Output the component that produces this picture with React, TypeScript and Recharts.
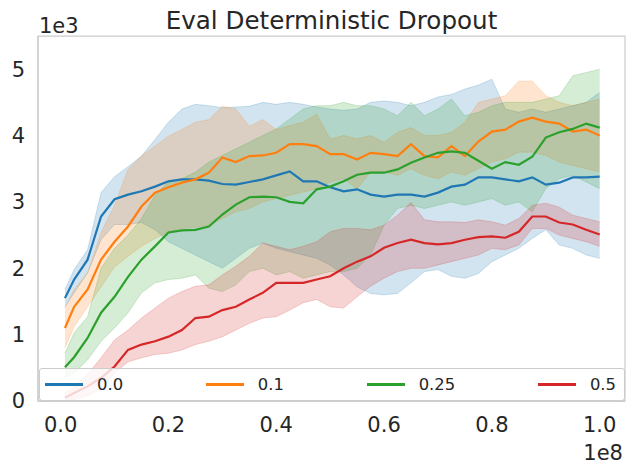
import { ComposedChart, Area, Line, XAxis, YAxis, ReferenceArea } from 'recharts'

// x: environment steps (1e8), y: eval return (1e3)
const steps = [
  0.008, 0.025, 0.05, 0.075, 0.1, 0.125, 0.15, 0.175, 0.2, 0.225,
  0.25, 0.275, 0.3, 0.325, 0.35, 0.375, 0.4, 0.425, 0.45, 0.475,
  0.5, 0.525, 0.55, 0.575, 0.6, 0.625, 0.65, 0.675, 0.7, 0.725,
  0.75, 0.775, 0.8, 0.825, 0.85, 0.875, 0.9, 0.925, 0.95, 0.975, 1.0,
]

// dropout 0.0
const mean00 = [
  1.55, 1.83, 2.13, 2.78, 3.04, 3.11, 3.16, 3.23, 3.31, 3.34,
  3.34, 3.32, 3.27, 3.26, 3.3, 3.34, 3.4, 3.46, 3.31, 3.31,
  3.22, 3.16, 3.19, 3.11, 3.08, 3.11, 3.11, 3.08, 3.14, 3.23,
  3.26, 3.37, 3.37, 3.34, 3.31, 3.37, 3.26, 3.29, 3.37, 3.37, 3.38,
]
const high00 = [
  1.68, 1.98, 2.28, 3.14, 3.38, 3.53, 3.69, 3.94, 4.2, 4.4,
  4.47, 4.45, 4.42, 4.43, 4.44, 4.5, 4.47, 4.5, 4.47, 4.43,
  4.4, 4.38, 4.4, 4.5, 4.52, 4.5, 4.45, 4.5, 4.58, 4.62,
  4.7, 4.76, 4.85, 4.4, 4.35, 4.4, 4.35, 4.4, 4.45, 4.5, 4.65,
]
const low00 = [
  1.42, 1.63, 1.93, 2.43, 2.66, 2.66, 2.69, 2.58, 2.4, 2.3,
  2.2, 2.1, 2.0, 2.15, 2.3, 2.38, 2.3, 2.25, 2.2, 2.15,
  2.05, 1.9, 1.72, 1.62, 1.6, 1.62, 1.78, 1.95, 1.98, 1.88,
  1.85, 1.92, 2.1, 2.2, 2.3, 2.45, 2.58, 2.35, 2.3, 2.2, 2.15,
]

// dropout 0.1
const mean01 = [
  1.1, 1.42, 1.68, 2.13, 2.4, 2.63, 2.93, 3.14, 3.22, 3.29,
  3.34, 3.44, 3.67, 3.6, 3.69, 3.7, 3.74, 3.87, 3.87, 3.84,
  3.72, 3.72, 3.64, 3.74, 3.72, 3.69, 3.87, 3.69, 3.67, 3.84,
  3.69, 3.91, 4.06, 4.09, 4.21, 4.27, 4.21, 4.18, 4.06, 4.09, 4.0,
]
const high01 = [
  1.4, 1.68, 1.93, 2.54, 2.95, 3.49, 3.69, 3.84, 3.99, 4.09,
  4.2, 4.24, 4.44, 4.4, 4.14, 4.24, 4.09, 4.15, 4.2, 4.32,
  3.95, 4.0, 3.95, 4.0, 3.9, 4.05, 4.12, 4.0, 4.0, 4.05,
  4.2, 4.5, 4.55, 4.6, 4.82, 4.82, 4.6, 4.5, 4.45, 4.5, 4.55,
]
const low01 = [
  0.8, 1.12, 1.42, 1.72, 2.02, 2.18, 2.33, 2.45, 2.55, 2.6,
  2.62, 2.65, 2.75, 2.85, 2.9, 3.0, 3.05, 3.1, 3.15, 3.2,
  3.3, 3.35, 3.2, 3.45, 3.45, 3.4, 3.5, 3.4, 3.35, 3.45,
  3.4, 3.5, 3.6, 3.65, 3.75, 3.75, 3.7, 3.6, 3.55, 3.5, 3.45,
]

// dropout 0.25
const mean025 = [
  0.51, 0.66, 0.95, 1.33, 1.57, 1.87, 2.13, 2.33, 2.54, 2.57,
  2.58, 2.63, 2.81, 2.96, 3.07, 3.08, 3.07, 3.0, 2.98, 3.19,
  3.23, 3.31, 3.41, 3.44, 3.44, 3.49, 3.59, 3.67, 3.74, 3.76,
  3.74, 3.62, 3.5, 3.6, 3.56, 3.68, 3.97, 4.05, 4.1, 4.18, 4.12,
]
const high025 = [
  0.72, 1.03, 1.27, 2.0, 2.3, 2.5, 2.75, 3.1, 3.3, 3.35,
  3.45, 3.6, 3.7, 3.8, 3.9, 4.0, 4.1, 4.25, 4.4, 4.45,
  4.45, 4.5, 4.45, 4.45, 4.4, 4.3, 4.5, 4.3, 4.4, 4.55,
  4.3, 4.35, 4.45, 4.5, 4.5, 4.5, 4.55, 4.6, 4.9, 4.95, 5.0,
]
const low025 = [
  0.35, 0.42, 0.62, 0.9, 1.1, 1.33, 1.63, 1.78, 1.83, 1.85,
  1.9, 1.7, 1.65, 1.75, 1.95, 2.0, 1.9, 1.95, 1.85, 1.9,
  1.95, 1.95, 2.0, 2.2, 2.65, 2.9, 2.95, 2.9, 2.95, 3.0,
  2.95, 3.0, 3.05, 2.95, 3.0, 2.85, 3.2, 3.35, 3.4, 3.3, 3.2,
]

// dropout 0.5
const mean05 = [
  0.05, 0.12, 0.22, 0.35, 0.52, 0.77, 0.85, 0.9, 0.97, 1.07,
  1.25, 1.27, 1.37, 1.42, 1.53, 1.63, 1.78, 1.78, 1.78, 1.83,
  1.88, 2.0, 2.1, 2.18, 2.31, 2.38, 2.43, 2.38, 2.36, 2.38,
  2.43, 2.47, 2.48, 2.46, 2.55, 2.78, 2.78, 2.69, 2.66, 2.58, 2.51,
]
const high05 = [
  0.12, 0.22, 0.4, 0.65, 0.92, 1.07, 1.25, 1.4, 1.55, 1.65,
  1.73, 1.75, 1.9, 2.03, 2.18, 2.38, 2.33, 2.28, 2.33, 2.4,
  2.55, 2.6, 2.6, 2.58, 2.65, 2.8, 2.99, 2.73, 2.7, 2.7,
  2.69, 2.73, 2.7, 2.65, 2.75, 2.95, 2.98, 2.92, 2.8, 2.75, 2.7,
]
const low05 = [
  0.0, 0.02, 0.08, 0.18, 0.42, 0.59, 0.65, 0.7, 0.72, 0.77,
  0.85, 0.9, 0.97, 1.07, 1.17, 1.25, 1.27, 1.37, 1.48, 1.53,
  1.42, 1.4, 1.57, 1.73, 1.85, 1.95, 2.0, 2.0, 2.05, 2.1,
  2.15, 2.2, 2.3, 2.28, 2.35, 2.6, 2.6, 2.5, 2.45, 2.4, 2.33,
]

const xTicks = [0, 0.2, 0.4, 0.6, 0.8, 1.0]
const yTicks = [0, 1, 2, 3, 4, 5]
const X_DOMAIN = [-0.042, 1.047]
const Y_DOMAIN = [0, 5.5]

const series = [
  { key: 's0', name: '0.0', color: '#1f77b4', mean: mean00, low: low00, high: high00 },
  { key: 's1', name: '0.1', color: '#ff7f0e', mean: mean01, low: low01, high: high01 },
  { key: 's2', name: '0.25', color: '#2ca02c', mean: mean025, low: low025, high: high025 },
  { key: 's3', name: '0.5', color: '#d62728', mean: mean05, low: low05, high: high05 },
]

const rows = steps.map((step, i) => {
  const row: Record<string, number | number[]> = { step }
  for (const s of series) {
    row[s.key] = s.mean[i]
    row[s.key + 'band'] = [s.low[i], s.high[i]]
  }
  return row
})

const FONT = '"DejaVu Sans", sans-serif'
const TEXT = '#262626'
const SPINE = { stroke: '#cccccc', strokeWidth: 1.25 }
const TICK = { fontSize: 21, fill: TEXT, fontFamily: FONT }

export default function App() {
  return (
    <div style={{ position: 'absolute', left: 0, top: 0, width: 635, height: 474, background: '#fff', fontFamily: FONT }}>
      <ComposedChart width={635} height={474} data={rows} margin={{ top: 36, right: 10, bottom: 33, left: 0 }}>
        <XAxis
          dataKey="step"
          type="number"
          domain={X_DOMAIN}
          ticks={xTicks}
          tickFormatter={(v: number) => v.toFixed(1)}
          tickLine={false}
          tickSize={0}
          tickMargin={16}
          axisLine={SPINE}
          tick={TICK}
          height={40}
          allowDataOverflow
        />
        <YAxis
          type="number"
          domain={Y_DOMAIN}
          ticks={yTicks}
          tickLine={false}
          tickSize={0}
          tickMargin={13}
          axisLine={SPINE}
          tick={TICK}
          width={38}
          allowDataOverflow
        />
        {series.map((s) => [
          <Area
            key={s.key + 'band'}
            dataKey={s.key + 'band'}
            type="linear"
            stroke={s.color}
            strokeOpacity={0.2}
            strokeWidth={1}
            fill={s.color}
            fillOpacity={0.2}
            dot={false}
            activeDot={false}
            isAnimationActive={false}
          />,
          <Line
            key={s.key}
            dataKey={s.key}
            type="linear"
            stroke={s.color}
            strokeWidth={2.2}
            dot={false}
            activeDot={false}
            isAnimationActive={false}
          />,
        ])}
        {/* axes frame */}
        <ReferenceArea
          x1={X_DOMAIN[0]}
          x2={X_DOMAIN[1]}
          y1={Y_DOMAIN[0]}
          y2={Y_DOMAIN[1]}
          fill="none"
          stroke="#cccccc"
          strokeWidth={1.25}
          fillOpacity={0}
          ifOverflow="visible"
        />
      </ComposedChart>

      <svg width={635} height={474} style={{ position: 'absolute', left: 0, top: 0, pointerEvents: 'none' }}>
        <text x={331.5} y={28.5} textAnchor="middle" fontSize={24.6} fill={TEXT} fontFamily={FONT}>
          Eval Deterministic Dropout
        </text>
        <text x={39} y={33} fontSize={21} fill={TEXT} fontFamily={FONT}>1e3</text>
        <text x={623} y={460} textAnchor="end" fontSize={21} fill={TEXT} fontFamily={FONT}>1e8</text>
      </svg>

      <div
        style={{
          position: 'absolute',
          left: 39,
          top: 368,
          width: 586,
          height: 33,
          boxSizing: 'border-box',
          border: '1px solid #cccccc',
          borderRadius: 3,
          background: 'rgba(255,255,255,0.8)',
          display: 'flex',
          justifyContent: 'space-between',
          alignItems: 'center',
          padding: '0 8px 0 5px',
        }}
      >
        {series.map((s) => (
          <div key={s.key} style={{ display: 'flex', alignItems: 'center' }}>
            <div style={{ width: 38, height: 2.4, background: s.color, marginRight: 14 }} />
            <span style={{ fontSize: 16.4, color: TEXT, lineHeight: '18px' }}>{s.name}</span>
          </div>
        ))}
      </div>
    </div>
  )
}
